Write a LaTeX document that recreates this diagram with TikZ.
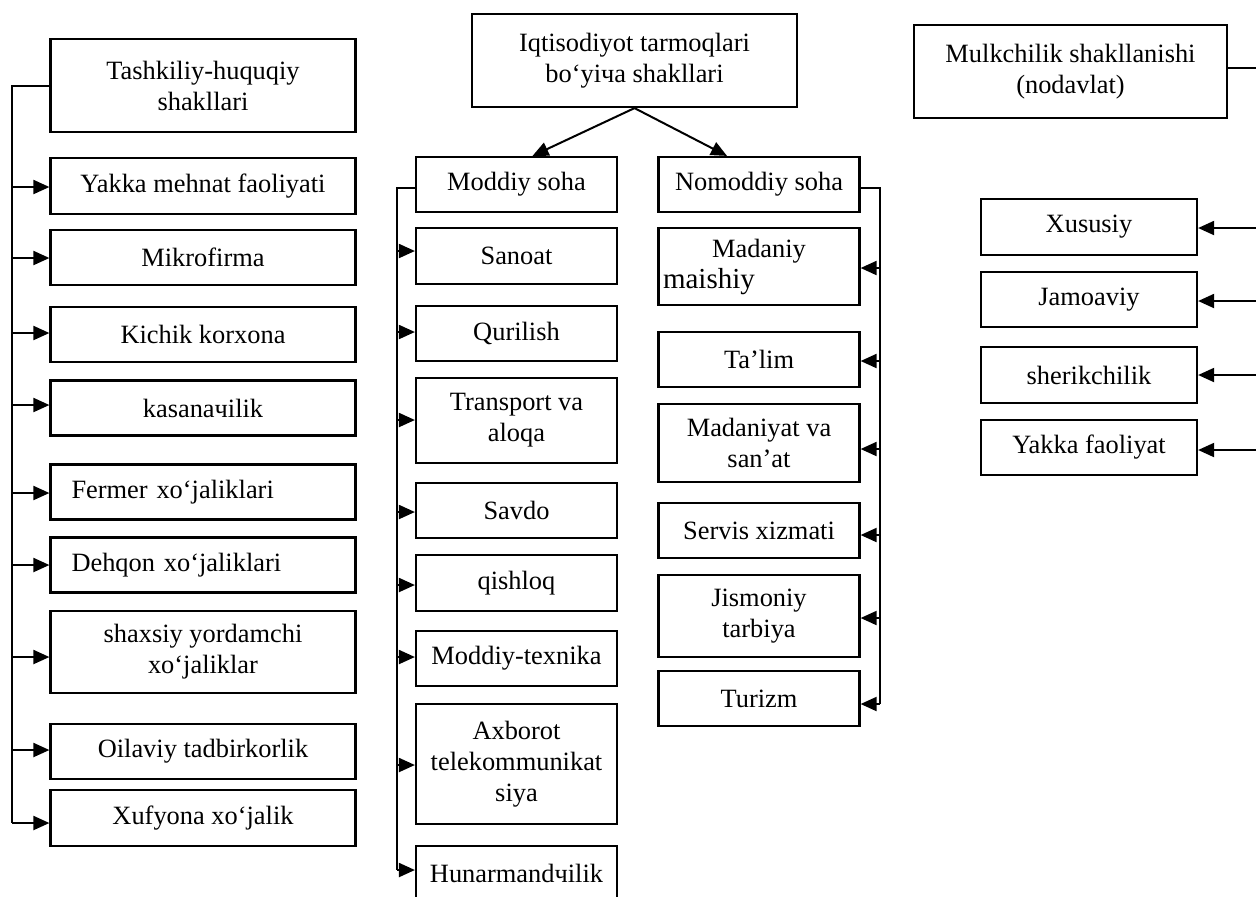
\documentclass[tikz,border=0pt]{standalone}
\usepackage{fontspec}
\setmainfont{Liberation Serif}
\usetikzlibrary{arrows.meta}
\begin{document}
\begin{tikzpicture}[x=0.5pt,y=-0.5pt,
 bx/.style={draw, line width=1.1pt, rectangle, inner sep=0pt, align=center, font=\fontsize{13.2}{15.5}\selectfont, minimum height=27.5pt},
 lc/.style={bx, minimum width=152.5pt},
 mc/.style={bx, minimum width=100.5pt},
 rc/.style={bx, minimum width=108pt},
 conn/.style={line width=1pt},
 arr/.style={conn, -{Triangle[length=8pt,width=7pt]}},
]
\useasboundingbox (0,0) rectangle (1256,896);
% ---- left column
\coordinate (ltr) at (12,0);
\node[lc, minimum height=46.5pt] (tash) at (203,85.5) {Tashkiliy-huquqiy\\shakllari};
\node[lc, minimum height=28pt] (yakka) at (203,186) {Yakka mehnat faoliyati};
\node[lc] (mikro) at (203,257.5) {Mikrofirma};
\node[lc] (kich) at (203,334.5) {Kichik korxona};
\node[lc] (kas) at (203,408) {kasanaчilik};
\node[lc, text width=131.5pt, inner xsep=10.5pt, align=left] (fer) at (203,492) {Fermer xo‘jaliklari};
\node[lc, text width=131.5pt, inner xsep=10.5pt, align=left] (deh) at (203,565) {Dehqon xo‘jaliklari};
\node[lc, minimum height=41pt] (sha) at (203,652) {shaxsiy yordamchi\\xo‘jaliklar};
\node[lc] (oil) at (203,751.5) {Oilaviy tadbirkorlik};
\node[lc, minimum height=28pt] (xuf) at (203,818) {Xufyona xo‘jalik};
\draw[conn] (tash.west) -| ([yshift=-2.5pt]xuf.west -| ltr);
\foreach \n/\s in {yakka/-0.5,mikro/-0.25,kich/0.75,kas/1.5,fer/-0.5,deh/0,sha/-2.5,oil/0.75,xuf/-2.5}
  \draw[arr] ([yshift=\s pt]\n.west -| ltr) -- ([yshift=\s pt]\n.west);
% ---- middle top
\node[bx, minimum width=162.5pt, minimum height=46.5pt] (iqt) at (634.5,60.5) {Iqtisodiyot tarmoqlari\\bo‘yiчa shakllari};
\node[mc] (mod) at (516.5,184.5) {Moddiy soha};
\node[mc] (nom) at (759,184.5) {Nomoddiy soha};
\draw[arr] (iqt.south) -- ([xshift=8pt]mod.north);
\draw[arr] (iqt.south) -- ([xshift=-16pt]nom.north);
% ---- moddiy column
\coordinate (mtr) at (397,0);
\node[mc, minimum height=28pt] (san) at (516.5,256) {Sanoat};
\node[mc] (qur) at (516.5,333.5) {Qurilish};
\node[mc, minimum height=42.5pt] (tra) at (516.5,420.5) {Transport va\\aloqa};
\node[mc] (sav) at (516.5,510.5) {Savdo};
\node[mc, minimum height=28pt] (qis) at (516.5,583) {qishloq};
\node[mc] (tex) at (516.5,658.5) {Moddiy-texnika};
\node[mc, minimum height=60pt] (axb) at (516.5,764) {Axborot\\telekommunikat\\siya};
\node[mc] (hun) at (516.5,873.5) {Hunarmandчilik};
\draw[conn] ([yshift=-1.75pt]mod.west) -| ([yshift=1.75pt]hun.west -| mtr);
\foreach \n/\s in {san/2.5,qur/0.75,tra/0.25,sav/-0.75,qis/-1,tex/0.75,axb/-0.5,hun/1.75}
  \draw[arr] ([yshift=\s pt]\n.west -| mtr) -- ([yshift=\s pt]\n.west);
% ---- nomoddiy column
\coordinate (ntr) at (880,0);
\node[mc, minimum height=38.5pt] (mad) at (759,266.5) {Madaniy\\\makebox[96pt][l]{\fontsize{14.5}{15.5}\selectfont maishiy}};
\node[mc] (tal) at (759,359.5) {Ta’lim};
\node[mc, minimum height=39pt] (mdt) at (759,443) {Madaniyat va\\san’at};
\node[mc] (ser) at (759,530.5) {Servis xizmati};
\node[mc, minimum height=41pt] (jis) at (759,616) {Jismoniy\\tarbiya};
\node[mc] (tur) at (759,698.5) {Turizm};
\draw[conn] ([yshift=-1.75pt]nom.east) -| ([yshift=-2.75pt]tur.east -| ntr);
\foreach \n/\s in {mad/-0.75,tal/-0.75,mdt/-3,ser/-2.25,jis/-1,tur/-2.75}
  \draw[arr] ([yshift=\s pt]\n.east -| ntr) -- ([yshift=\s pt]\n.east);
% ---- right column
\coordinate (re) at (1262,0);
\node[bx, minimum width=156.5pt, minimum height=46.5pt] (mul) at (1070.5,71.5) {Mulkchilik shakllanishi\\(nodavlat)};
\draw[conn] ([yshift=1.75pt]mul.east) -- ([yshift=1.75pt]mul.east -| re);
\node[rc, minimum height=28pt] (xus) at (1089,227) {Xususiy};
\node[rc] (jam) at (1089,299.5) {Jamoaviy};
\node[rc, minimum height=28pt] (she) at (1089,375) {sherikchilik};
\node[rc] (yf) at (1089,447.5) {Yakka faoliyat};
\foreach \n/\s in {xus/-0.5,jam/-0.75,she/0,yf/-1.25}
  \draw[arr] ([yshift=\s pt]\n.east -| re) -- ([yshift=\s pt]\n.east);
\end{tikzpicture}
\end{document}
